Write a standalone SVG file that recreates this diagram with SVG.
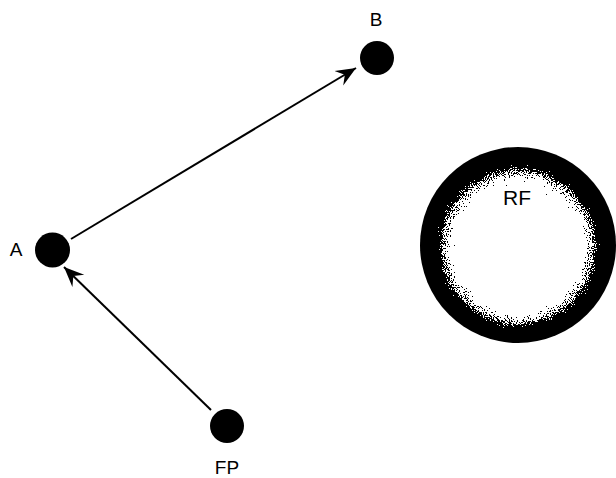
<svg xmlns="http://www.w3.org/2000/svg" width="616" height="478" viewBox="0 0 616 478">
  <style>
    .dot { fill: #000; }
    .lbl { font-family: "Liberation Sans", Arial, sans-serif; font-size: 19px; fill: #000; text-anchor: middle; }
    .edge { stroke: #000; stroke-width: 2; fill: none; marker-end: url(#barb); }
  </style>
  <defs>
    <marker id="barb" viewBox="-20 -9 22 18" refX="0" refY="0" markerWidth="22" markerHeight="18" markerUnits="userSpaceOnUse" orient="auto">
      <path d="M0,0 L-20,-8.5 L-13,0 L-20,8.5 Z" fill="#000"/>
    </marker>
    <radialGradient id="rfGrad" cx="0.5" cy="0.51" r="0.5">
      <stop offset="0" stop-color="#fff"/>
      <stop offset="0.58" stop-color="#fff"/>
      <stop offset="0.76" stop-color="#8a8a8a"/>
      <stop offset="0.88" stop-color="#000"/>
      <stop offset="1" stop-color="#000"/>
    </radialGradient>
    <!-- stipple: add fine noise to the gradient, then threshold to black/white -->
    <filter id="stipple" x="0" y="0" width="1" height="1" color-interpolation-filters="sRGB">
      <feTurbulence type="fractalNoise" baseFrequency="0.95" numOctaves="2" seed="3" result="noise"/>
      <feColorMatrix in="noise" type="matrix" values="1 0 0 0 0  1 0 0 0 0  1 0 0 0 0  0 0 0 0 1" result="grey"/>
      <feComposite in="SourceGraphic" in2="grey" operator="arithmetic" k1="0" k2="1" k3="1.1" k4="-0.55" result="mix"/>
      <feComponentTransfer in="mix" result="bw">
        <feFuncR type="discrete" tableValues="0 1"/>
        <feFuncG type="discrete" tableValues="0 1"/>
        <feFuncB type="discrete" tableValues="0 1"/>
        <feFuncA type="discrete" tableValues="1"/>
      </feComponentTransfer>
      <feComposite in="bw" in2="SourceAlpha" operator="in"/>
    </filter>
  </defs>

  <g id="connectors">
    <line class="edge" x1="71" y1="239" x2="356" y2="68"/>
    <line class="edge" x1="211" y1="410" x2="64" y2="267"/>
  </g>

  <g id="node-B">
    <circle class="dot" cx="377" cy="58" r="17"/>
    <text class="lbl" x="376" y="26">B</text>
  </g>

  <g id="node-A">
    <circle class="dot" cx="52.5" cy="250" r="17.5"/>
    <text class="lbl" x="16" y="256">A</text>
  </g>

  <g id="node-FP">
    <circle class="dot" cx="227" cy="426" r="17"/>
    <text class="lbl" x="227" y="474">FP</text>
  </g>

  <g id="node-RF">
    <circle cx="518" cy="245" r="98" fill="url(#rfGrad)" filter="url(#stipple)"/>
    <text class="lbl" x="517" y="205" style="font-size:21px">RF</text>
  </g>
</svg>
